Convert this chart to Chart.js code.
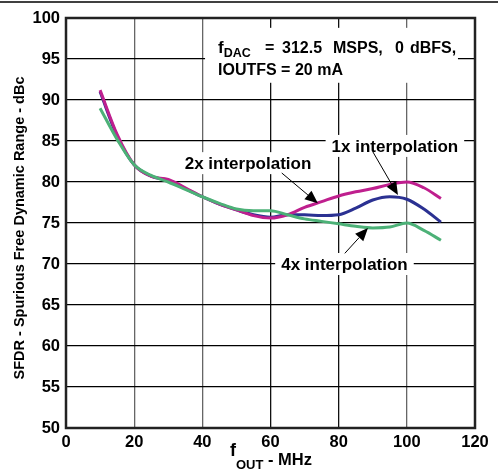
<!DOCTYPE html>
<html>
<head>
<meta charset="utf-8">
<script src="https://cdn.jsdelivr.net/npm/chart.js@4/dist/chart.umd.min.js"></script>
<style>
  html, body { margin: 0; padding: 0; background: #fff; }
  #wrap { width: 498px; height: 470px; position: relative; }
</style>
</head>
<body>
<div id="wrap"><canvas id="c"></canvas></div>
<script>
// fOUT in MHz
const FREQ = [10, 15, 20, 25, 30, 35, 40, 45, 50, 55, 60, 65, 70, 75, 80, 85, 90, 95, 100, 105, 110];
// SFDR in dBc
const SFDR_1X = [91.0, 85.6, 82.1, 80.7, 80.2, 79.2, 78.2, 77.3, 76.6, 76.0, 75.7, 76.0, 76.0, 75.9, 76.0, 76.8, 77.8, 78.2, 77.9, 76.7, 75.1];
const SFDR_2X = [91.2, 85.8, 82.1, 80.7, 80.3, 79.3, 78.2, 77.3, 76.6, 75.9, 75.6, 76.0, 76.9, 77.6, 78.3, 78.8, 79.2, 79.7, 80.0, 79.3, 78.0];
const SFDR_4X = [89.0, 85.2, 82.1, 80.8, 80.0, 79.1, 78.2, 77.4, 76.7, 76.5, 76.5, 76.0, 75.5, 75.2, 74.9, 74.6, 74.4, 74.5, 75.0, 74.1, 72.9];

const X_TICKS = [0, 20, 40, 60, 80, 100, 120];
const Y_TICKS = [50, 55, 60, 65, 70, 75, 80, 85, 90, 95, 100];

const COLORS = {
  x1: '#2b3192',
  x2: '#bf1f8e',
  x4: '#4cb177',
};

const FONT = '"Liberation Sans", Arial, sans-serif';

// curve labels: text, centre (MHz, dBc), arrow tail -> tip
const LABELS = [
  { text: '2x interpolation', at: [53.4, 82.3], from: [63.3, 81.1], to: [73.9, 77.4] },
  { text: '1x interpolation', at: [96.5, 84.4], from: [90.0, 83.7], to: [97.4, 78.4] },
  { text: '4x interpolation', at: [81.7, 70.0], from: [81.8, 71.3], to: [88.6, 74.4] },
];

// condition text, first line split in words (offset in px from the "f")
const COND_WORDS = [['=', 47], ['312.5', 64], ['MSPS,', 115], ['0', 177], ['dBFS,', 192]];

const pts = ys => FREQ.map((f, i) => ({ x: f, y: ys[i] }));

function lineDS(label, data, color, order) {
  return {
    label, data: pts(data),
    borderColor: color,
    backgroundColor: 'transparent',
    borderWidth: 3,
    pointRadius: 0,
    tension: 0.4,
    cubicInterpolationMode: 'monotone',
    order,
  };
}

function arrow(ctx, x0, y0, x1, y1) {
  const a = Math.atan2(y1 - y0, x1 - x0);
  const len = 13, w = 5.5;
  ctx.strokeStyle = '#000';
  ctx.lineWidth = 1;
  ctx.beginPath();
  ctx.moveTo(x0, y0);
  ctx.lineTo(x1 - len * Math.cos(a), y1 - len * Math.sin(a));
  ctx.stroke();
  ctx.fillStyle = '#000';
  ctx.beginPath();
  ctx.moveTo(x1, y1);
  ctx.lineTo(x1 - len * Math.cos(a) + w * Math.sin(a), y1 - len * Math.sin(a) - w * Math.cos(a));
  ctx.lineTo(x1 - len * Math.cos(a) - w * Math.sin(a), y1 - len * Math.sin(a) + w * Math.cos(a));
  ctx.closePath();
  ctx.fill();
}

const deco = {
  id: 'deco',
  beforeDatasetsDraw(chart) {
    const { ctx, scales: { x, y } } = chart;
    ctx.save();
    // condition box
    ctx.fillStyle = '#fff';
    ctx.fillRect(x.getPixelForValue(40.8), y.getPixelForValue(98.8), x.getPixelForValue(115) - x.getPixelForValue(40.8), y.getPixelForValue(92.1) - y.getPixelForValue(98.8));
    const bx = x.getPixelForValue(44.6);
    ctx.fillStyle = '#000';
    ctx.textBaseline = 'alphabetic';
    ctx.textAlign = 'left';
    const b1 = y.getPixelForValue(95.7);
    ctx.font = 'bold 17px ' + FONT;
    ctx.fillText('f', bx, b1);
    const fw = ctx.measureText('f').width;
    ctx.font = 'bold 12.5px ' + FONT;
    ctx.fillText('DAC', bx + fw, b1 + 4);
    ctx.font = 'bold 16px ' + FONT;
    COND_WORDS.forEach(([w, off]) => ctx.fillText(w, bx + off, b1));
    ctx.fillText('IOUTFS = 20 mA', bx, y.getPixelForValue(93.0));

    // curve labels
    ctx.font = 'bold 17px ' + FONT;
    ctx.textAlign = 'center';
    ctx.textBaseline = 'middle';
    LABELS.forEach(l => {
      const px = x.getPixelForValue(l.at[0]), py = y.getPixelForValue(l.at[1]);
      const w = ctx.measureText(l.text).width;
      ctx.fillStyle = '#fff';
      ctx.fillRect(px - w / 2 - 6, py - 11, w + 12, 22);
      ctx.fillStyle = '#000';
      ctx.fillText(l.text, px, py + 1);
    });
    ctx.restore();
  },
  afterDatasetsDraw(chart) {
    const { ctx, chartArea: a, scales: { x, y } } = chart;
    ctx.save();
    LABELS.forEach(l => arrow(ctx, x.getPixelForValue(l.from[0]), y.getPixelForValue(l.from[1]),
      x.getPixelForValue(l.to[0]), y.getPixelForValue(l.to[1])));
    // plot frame
    ctx.strokeStyle = '#222';
    ctx.lineWidth = 2.5;
    ctx.strokeRect(a.left, a.top, a.right - a.left, a.bottom - a.top);
    ctx.restore();
  },
  afterDraw(chart) {
    const { ctx, chartArea: a } = chart;
    ctx.save();
    // top rule
    ctx.strokeStyle = '#000';
    ctx.lineWidth = 1.5;
    ctx.beginPath();
    ctx.moveTo(0, 2);
    ctx.lineTo(chart.width, 2);
    ctx.stroke();
    ctx.fillStyle = '#000';
    // y title
    ctx.font = 'bold 14.5px ' + FONT;
    ctx.textAlign = 'center';
    ctx.textBaseline = 'middle';
    ctx.translate(20, (a.top + a.bottom) / 2 + 5);
    ctx.rotate(-Math.PI / 2);
    ctx.fillText('SFDR - Spurious Free Dynamic Range - dBc', 0, 0);
    ctx.setTransform(1, 0, 0, 1, 0, 0);
    ctx.scale(chart.currentDevicePixelRatio, chart.currentDevicePixelRatio);
    // x title with subscript
    ctx.textAlign = 'left';
    ctx.textBaseline = 'alphabetic';
    let tx = 230;
    ctx.font = 'bold 18px ' + FONT;
    ctx.fillText('f', tx, 456);
    tx += ctx.measureText('f').width;
    ctx.font = 'bold 13px ' + FONT;
    ctx.fillText('OUT', tx, 469);
    tx += ctx.measureText('OUT').width;
    ctx.font = 'bold 16.5px ' + FONT;
    ctx.fillText(' - MHz', tx, 465);
    ctx.restore();
  },
};

new Chart(document.getElementById('c'), {
  type: 'line',
  data: {
    datasets: [
      lineDS('1x interpolation', SFDR_1X, COLORS.x1, 3),
      lineDS('2x interpolation', SFDR_2X, COLORS.x2, 2),
      lineDS('4x interpolation', SFDR_4X, COLORS.x4, 1),
    ],
  },
  options: {
    responsive: true,
    maintainAspectRatio: false,
    animation: false,
    layout: { padding: { top: 18, right: 23, bottom: 0, left: 0 } },
    plugins: { legend: { display: false }, tooltip: { enabled: false } },
    scales: {
      x: {
        type: 'linear',
        min: 0, max: 120,
        afterFit: s => { s.height = 42; },
        afterBuildTicks: s => { s.ticks = X_TICKS.map(v => ({ value: v })); },
        border: { display: false },
        grid: {
          drawTicks: false,
          color: c => (c.tick && (c.tick.value === 60 || c.tick.value === 80)) ? '#111' : '#666',
          lineWidth: 1.3,
        },
        ticks: { color: '#000', padding: 5, font: { family: FONT, size: 16.5, weight: 'bold' } },
      },
      y: {
        type: 'linear',
        min: 50, max: 100,
        afterFit: s => { s.width = 66; },
        afterBuildTicks: s => { s.ticks = Y_TICKS.map(v => ({ value: v })); },
        border: { display: false },
        grid: { drawTicks: false, color: '#000', lineWidth: 1.2 },
        ticks: { color: '#000', padding: 6, font: { family: FONT, size: 16.5, weight: 'bold' } },
      },
    },
  },
  plugins: [deco],
});
</script>
</body>
</html>
